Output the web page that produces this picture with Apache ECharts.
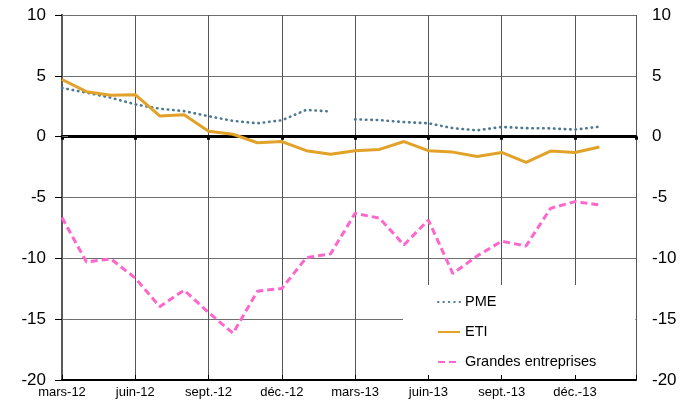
<!DOCTYPE html>
<html>
<head>
<meta charset="utf-8">
<script src="https://cdn.jsdelivr.net/npm/echarts@6/dist/echarts.min.js"></script>
<style>
  html, body { margin: 0; padding: 0; background: #fff; }
  #main { width: 693px; height: 403px; }
</style>
</head>
<body>
<div id="main"></div>
<script>
// months from mars-12 to janv.-14, x = month index
var months = ['mars-12', 'avr.-12', 'mai-12', 'juin-12', 'juil.-12', 'août-12', 'sept.-12', 'oct.-12', 'nov.-12', 'déc.-12',
  'janv.-13', 'févr.-13', 'mars-13', 'avr.-13', 'mai-13', 'juin-13', 'juil.-13', 'août-13', 'sept.-13', 'oct.-13', 'nov.-13', 'déc.-13', 'janv.-14']
var pme = [4.0, 3.62, 3.2, 2.65, 2.3, 2.1, 1.68, 1.3, 1.1, 1.35, 2.2, 2.07,
  1.42, 1.36, 1.2, 1.1, 0.7, 0.52, 0.8, 0.7, 0.68, 0.58, 0.82]
var pmeBreak = 12 // the PME line is not drawn between févr.-13 and mars-13
var eti = [4.7, 3.7, 3.4, 3.45, 1.7, 1.8, 0.45, 0.2, -0.5, -0.4, -1.15, -1.45,
  -1.15, -1.05, -0.4, -1.15, -1.27, -1.63, -1.3, -2.12, -1.18, -1.3, -0.85]
var grandes = [-6.65, -10.3, -10.05, -11.62, -13.97, -12.62, -14.45, -16.16, -12.7, -12.48, -9.95, -9.62,
  -6.3, -6.7, -8.9, -6.85, -11.25, -9.8, -8.6, -8.98, -5.89, -5.34, -5.61]

var font = "'Liberation Sans', Arial, sans-serif"
var pmeColor = '#4e7891'
var etiColor = '#e2a229'
var geColor = '#ff66cc'

function pairs (values, from, to) {
  var out = []
  for (var i = from; i < to; i++) out.push([i, values[i]])
  return out
}

var pmeStyle = { color: pmeColor, width: 2.6, type: [0.5, 4.9], cap: 'round' }

var chart = echarts.init(document.getElementById('main'))
var option = {
  animation: false,
  grid: { left: 62, right: 57, top: 15, bottom: 23 },
  legend: {
    orient: 'vertical',
    left: 403,
    top: 285,
    padding: [9, 39, 7, 34],
    backgroundColor: '#fff',
    itemWidth: 22,
    itemHeight: 16,
    itemGap: 14,
    itemStyle: { opacity: 0 },
    data: ['PME', 'ETI', 'Grandes entreprises'],
    textStyle: { fontFamily: font, fontSize: 14.5, color: '#000', lineHeight: 16 }
  },
  xAxis: [
    {
      type: 'value',
      min: 0,
      max: 23.5,
      interval: 3,
      position: 'bottom',
      z: 5,
      axisLine: { onZero: false, lineStyle: { color: '#000', width: 2 } },
      axisTick: { show: true, inside: true, length: 5, lineStyle: { color: '#000', width: 1 } },
      splitLine: { show: false },
      axisLabel: {
        margin: 6,
        fontFamily: font,
        fontSize: 13,
        color: '#000',
        formatter: function (v) {
          return (v % 3 === 0 && months[v]) ? months[v] : ''
        }
      }
    },
    {
      type: 'value',
      min: 0,
      max: 23.5,
      interval: 3,
      position: 'bottom',
      z: 0,
      axisLine: { onZero: true, onZeroAxisIndex: 0, lineStyle: { color: '#000', width: 3 } },
      axisTick: { show: true, length: 3, lineStyle: { color: '#000', width: 3 } },
      axisLabel: { show: false },
      splitLine: { show: true, lineStyle: { color: '#555', width: 1 } }
    }
  ],
  yAxis: [
    {
      type: 'value',
      min: -20,
      max: 10,
      interval: 5,
      position: 'left',
      axisLine: { show: true, lineStyle: { color: '#000', width: 2 } },
      axisTick: { show: true, length: 7, lineStyle: { color: '#000' } },
      axisLabel: { margin: 16, fontFamily: font, fontSize: 17, color: '#000' },
      splitLine: { show: true, lineStyle: { color: '#6e6e6e', width: 1 } }
    },
    {
      type: 'value',
      min: -20,
      max: 10,
      interval: 5,
      position: 'right',
      axisLine: { show: true, lineStyle: { color: '#777', width: 1.5 } },
      axisTick: { show: true, length: 6, lineStyle: { color: '#777' } },
      axisLabel: { margin: 16, fontFamily: font, fontSize: 17, color: '#000' },
      splitLine: { show: false }
    }
  ],
  series: [
    {
      name: 'PME',
      type: 'line',
      symbol: 'none',
      color: pmeColor,
      lineStyle: pmeStyle,
      data: pairs(pme, 0, pmeBreak)
    },
    {
      name: 'PME',
      type: 'line',
      symbol: 'none',
      color: pmeColor,
      lineStyle: pmeStyle,
      data: pairs(pme, pmeBreak, pme.length)
    },
    {
      name: 'ETI',
      type: 'line',
      symbol: 'none',
      color: etiColor,
      lineStyle: { color: etiColor, width: 3 },
      data: pairs(eti, 0, eti.length)
    },
    {
      name: 'Grandes entreprises',
      type: 'line',
      symbol: 'none',
      color: geColor,
      lineStyle: { color: geColor, width: 3, type: [7, 4] },
      data: pairs(grandes, 0, grandes.length)
    }
  ]
}

option && chart.setOption(option)
</script>
</body>
</html>
